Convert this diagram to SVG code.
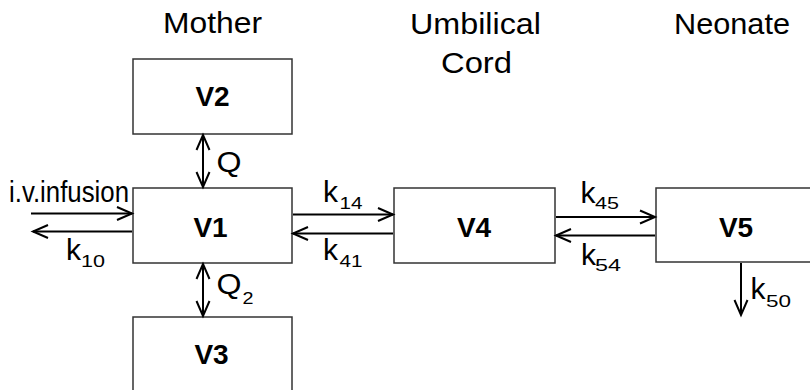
<svg xmlns="http://www.w3.org/2000/svg" width="810" height="390" viewBox="0 0 810 390">
<defs>
<marker id="ah" markerUnits="userSpaceOnUse" markerWidth="24" markerHeight="20" viewBox="-20 -10 24 20" refX="0" refY="0" orient="auto-start-reverse">
<path d="M-15,-6.5 L0,0 L-15,6.5" fill="none" stroke="#000" stroke-width="2"/>
</marker>
<style>
.box{fill:#fff;stroke:#333;stroke-width:1.5}
.lbl{font-family:"Liberation Sans",Arial,sans-serif;font-weight:bold;font-size:28px;text-anchor:middle;fill:#000}
.hdr{font-family:"Liberation Sans",Arial,sans-serif;font-size:29px;fill:#000}
.k{font-family:"Liberation Sans",Arial,sans-serif;font-size:30px;fill:#000}
.s{font-family:"Liberation Sans",Arial,sans-serif;font-size:17px;fill:#000}
.c{fill:none;stroke:#000;stroke-width:2}
</style>
</defs>
<rect width="810" height="390" fill="#fff"/>
<g id="headers">
<text class="hdr" x="163" y="33" textLength="99" lengthAdjust="spacingAndGlyphs">Mother</text>
<text class="hdr" x="410" y="34" textLength="131" lengthAdjust="spacingAndGlyphs">Umbilical</text>
<text class="hdr" x="441" y="72.5" textLength="71" lengthAdjust="spacingAndGlyphs">Cord</text>
<text class="hdr" x="674" y="34" textLength="116" lengthAdjust="spacingAndGlyphs">Neonate</text>
</g>
<g id="V2"><rect class="box" x="133" y="59" width="159" height="75"/><text class="lbl" x="212.5" y="106">V2</text></g>
<g id="V1"><rect class="box" x="133" y="188" width="159" height="75"/><text class="lbl" x="210.5" y="236.5">V1</text></g>
<g id="V3"><rect class="box" x="133" y="317" width="159" height="76"/><text class="lbl" x="211.5" y="364">V3</text></g>
<g id="V4"><rect class="box" x="394" y="188" width="161" height="75"/><text class="lbl" x="474" y="236.5">V4</text></g>
<g id="V5"><rect class="box" x="656" y="188" width="162" height="74"/><text class="lbl" x="736" y="236.5">V5</text></g>
<g id="connectors">
<path class="c" d="M31,213.5 L132,213.5" marker-end="url(#ah)"/>
<path class="c" d="M132,231.5 L33,231.5" marker-end="url(#ah)"/>
<path class="c" d="M293,214.5 L393,214.5" marker-end="url(#ah)"/>
<path class="c" d="M393,233.5 L293,233.5" marker-end="url(#ah)"/>
<path class="c" d="M556,217 L655,217" marker-end="url(#ah)"/>
<path class="c" d="M655,235.5 L556,235.5" marker-end="url(#ah)"/>
<path class="c" d="M203,135 L203,187" marker-start="url(#ah)" marker-end="url(#ah)"/>
<path class="c" d="M203,264 L203,316" marker-start="url(#ah)" marker-end="url(#ah)"/>
<path class="c" d="M741,263 L741,315" marker-end="url(#ah)"/>
</g>
<g id="labels">
<text class="k" x="9" y="201.5" font-size="21" textLength="120" lengthAdjust="spacingAndGlyphs">i.v.infusion</text>
<text class="k" x="66" y="260">k</text><text class="s" x="81" y="266.5" textLength="24" lengthAdjust="spacingAndGlyphs">10</text>
<text class="k" x="323" y="202">k</text><text class="s" x="339.5" y="209.3" textLength="23" lengthAdjust="spacingAndGlyphs">14</text>
<text class="k" x="323" y="260">k</text><text class="s" x="339.5" y="266.7" textLength="23" lengthAdjust="spacingAndGlyphs">41</text>
<text class="k" x="580.5" y="202.7">k</text><text class="s" x="595" y="209.3" textLength="24" lengthAdjust="spacingAndGlyphs">45</text>
<text class="k" x="581" y="265">k</text><text class="s" x="595" y="270.7" textLength="26" lengthAdjust="spacingAndGlyphs">54</text>
<text class="k" x="750.5" y="299.3">k</text><text class="s" x="766" y="306.7" textLength="25" lengthAdjust="spacingAndGlyphs">50</text>
<text class="k" x="216.5" y="172" textLength="25" lengthAdjust="spacingAndGlyphs">Q</text>
<text class="k" x="216.5" y="294" textLength="25" lengthAdjust="spacingAndGlyphs">Q</text><text class="s" x="242.5" y="304" textLength="11" lengthAdjust="spacingAndGlyphs">2</text>
</g>
</svg>
